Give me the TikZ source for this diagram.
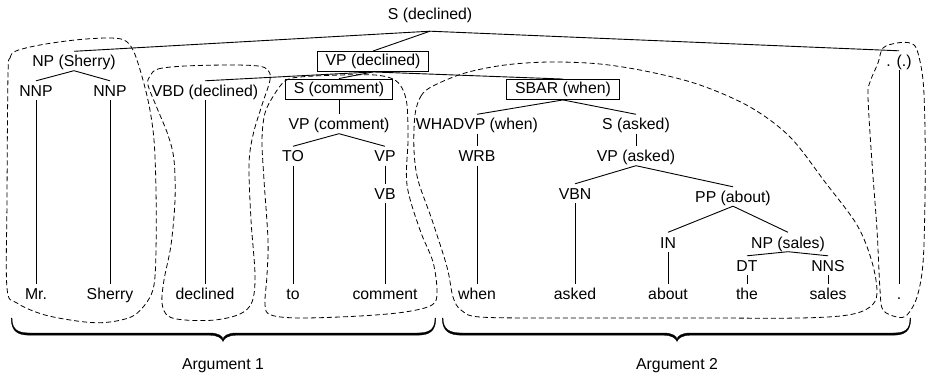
\documentclass[tikz,border=0pt]{standalone}
\usepackage{fontspec}
\setmainfont{Liberation Sans}
\begin{document}
\begin{tikzpicture}[x=1pt,y=-1pt,
  every node/.style={font=\fontsize{15.8pt}{18pt}\selectfont},
  lbl/.style={anchor=base, inner xsep=0pt, inner ysep=3.5pt, text height=12pt, text depth=0pt},
  tagbox/.style={draw, line width=0.9pt, inner xsep=8.5pt, inner ysep=2.5pt, text height=12pt, text depth=3pt},
  conn/.style={line width=0.9pt},
  argregion/.style={line width=0.8pt, dash pattern=on 5pt off 3pt},
  curly/.style={fill=black, draw=black, line width=0.3pt}]
\useasboundingbox (0,0) rectangle (928,374);

% constituents
\node[lbl, text depth=8pt] (s) at (430,19.5) {S (declined)};
\node[lbl] (np) at (74,67) {NP (Sherry)};
\node[tagbox] (vp) at (373,61.5) {VP (declined)};
\node[lbl] (dot) at (899,66.5) {. (.)};
\node[lbl] (nnp1) at (36,96.5) {NNP};
\node[lbl] (nnp2) at (110,96.5) {NNP};
\node[lbl] (vbd) at (205,96.5) {VBD (declined)};
\node[tagbox] (scom) at (339,89) {S (comment)};
\node[tagbox] (sbar) at (563,89.5) {SBAR (when)};
\node[lbl] (vpcom) at (339,130) {VP (comment)};
\node[lbl] (to) at (293,162) {TO};
\node[lbl] (vpinf) at (385,162) {VP};
\node[lbl] (vb) at (385,199.5) {VB};
\node[lbl] (whadvp) at (477,130) {WHADVP (when)};
\node[lbl] (wrb) at (477,162) {WRB};
\node[lbl] (sask) at (636,130) {S (asked)};
\node[lbl] (vpask) at (636,162) {VP (asked)};
\node[lbl] (vbn) at (575,199.5) {VBN};
\node[lbl] (pp) at (733,202.5) {PP (about)};
\node[lbl] (inn) at (668,248) {IN};
\node[lbl] (npsales) at (788,248) {NP (sales)};
\node[lbl] (dt) at (747,271.5) {DT};
\node[lbl] (nns) at (828,271.5) {NNS};

% words
\node[lbl] (w1) at (36,299.5) {Mr.};
\node[lbl] (w2) at (110,299.5) {Sherry};
\node[lbl] (w3) at (205,299.5) {declined};
\node[lbl] (w4) at (293,299.5) {to};
\node[lbl] (w5) at (385,299.5) {comment};
\node[lbl] (w6) at (477,299.5) {when};
\node[lbl] (w7) at (575,299.5) {asked};
\node[lbl] (w8) at (668,299.5) {about};
\node[lbl] (w9) at (747,299.5) {the};
\node[lbl] (w10) at (828,299.5) {sales};
\node[lbl] (w11) at (899,299.5) {.};

% tree branches
\draw[conn] (s.south) -- (np.north);
\draw[conn] (s.south) -- (vp.north);
\draw[conn] (s.south) -- (dot.north);
\draw[conn] (np.south) -- (nnp1.north);
\draw[conn] (np.south) -- (nnp2.north);
\draw[conn] (vp.south) -- (vbd.north);
\draw[conn] (vp.south) -- (scom.north);
\draw[conn] (vp.south) -- (sbar.north);
\draw[conn] (scom.south) -- (vpcom.north);
\draw[conn] (vpcom.south) -- (to.north);
\draw[conn] (vpcom.south) -- (vpinf.north);
\draw[conn] (vpinf.south) -- (vb.north);
\draw[conn] (sbar.south) -- (whadvp.north);
\draw[conn] (sbar.south) -- (sask.north);
\draw[conn] (whadvp.south) -- (wrb.north);
\draw[conn] (sask.south) -- (vpask.north);
\draw[conn] (vpask.south) -- (vbn.north);
\draw[conn] (vpask.south) -- (pp.north);
\draw[conn] (pp.south) -- (inn.north);
\draw[conn] (pp.south) -- (npsales.north);
\draw[conn] (npsales.south) -- (dt.north);
\draw[conn] (npsales.south) -- (nns.north);

% leaves
\draw[conn] (nnp1.south) -- (w1.north);
\draw[conn] (nnp2.south) -- (w2.north);
\draw[conn] (vbd.south) -- (w3.north);
\draw[conn] (to.south) -- (w4.north);
\draw[conn] (vb.south) -- (w5.north);
\draw[conn] (wrb.south) -- (w6.north);
\draw[conn] (vbn.south) -- (w7.north);
\draw[conn] (inn.south) -- (w8.north);
\draw[conn] (dt.south) -- (w9.north);
\draw[conn] (nns.south) -- (w10.north);
\draw[conn] (dot.south) -- (w11.north);

% dashed argument regions
\draw[argregion] plot[smooth cycle, tension=0.55] coordinates {
  (8,75) (10,58) (16,51) (40,45) (75,40) (107,38) (124,40) (133,50) (141,73)
  (149,105) (154,140) (156,190) (156,250) (154,285) (147,302) (133,316)
  (110,322) (85,322) (45,315) (17,303) (7,288) (7,200)};
\draw[argregion] plot[smooth cycle, tension=0.55] coordinates {
  (150,76) (158,69) (185,66) (230,65) (258,66) (268,70) (270,80) (262,105)
  (253,135) (249,165) (251,220) (255,275) (252,302) (240,314) (215,320)
  (185,320) (168,316) (162,303) (164,280) (171,245) (175,200) (174,160)
  (168,135) (157,108) (148,85)};
\draw[argregion] plot[smooth cycle, tension=0.55] coordinates {
  (274,95) (285,81) (300,77) (340,75) (375,75) (393,79) (402,88) (407,105)
  (408,140) (407,185) (420,230) (433,262) (437,292) (432,305) (405,312)
  (360,316) (300,318) (271,315) (265,305) (267,275) (268,240) (264,180)
  (262,140) (265,113)};
\draw[argregion] plot[smooth cycle, tension=0.55] coordinates {
  (415,115) (421,96) (433,86) (465,73) (505,65) (550,62) (600,64) (650,72)
  (700,85) (750,107) (790,137) (825,182) (857,225) (872,262) (877,293)
  (870,307) (848,315) (800,318) (700,318) (560,318) (480,317) (461,310)
  (453,297) (447,267) (432,220) (418,180) (414,150)};
\draw[argregion] plot[smooth cycle, tension=0.55] coordinates {
  (883,48) (897,43) (910,43) (917,50) (923,80) (925,130) (925,197) (923,263)
  (917,297) (907,315) (897,317) (883,310) (880,290) (877,230) (872,163)
  (868,97) (870,82) (878,63)};

% tapered braces under the two arguments
\path[curly] (12,318) .. controls (12,330) and (18,333) .. (30,333) -- (210,333)
  .. controls (218,333) and (223,336) .. (223,339.5)
  .. controls (223,336) and (228,333) .. (236,333) -- (417,333)
  .. controls (429,333) and (435,330) .. (435,318)
  -- (435.8,318) .. controls (435.8,331) and (430,335.2) .. (417,335.2) -- (236,335.2)
  .. controls (229,335.2) and (224,338) .. (223,341.5)
  .. controls (222,338) and (217,335.2) .. (210,335.2) -- (30,335.2)
  .. controls (17,335.2) and (11.2,331) .. (11.2,318) -- cycle;
\path[curly] (443,318) .. controls (443,330) and (450,333) .. (462,333) -- (664,333)
  .. controls (672,333) and (677,336) .. (677,339.5)
  .. controls (677,336) and (682,333) .. (690,333) -- (893,333)
  .. controls (905,333) and (910,330) .. (910,318)
  -- (910.8,318) .. controls (910.8,331) and (905,335.2) .. (893,335.2) -- (690,335.2)
  .. controls (683,335.2) and (678,338) .. (677,341.5)
  .. controls (676,338) and (671,335.2) .. (664,335.2) -- (462,335.2)
  .. controls (449,335.2) and (442.2,331) .. (442.2,318) -- cycle;

\node[lbl] (arg1) at (223,369) {Argument 1};
\node[lbl] (arg2) at (677,369) {Argument 2};
\end{tikzpicture}
\end{document}
